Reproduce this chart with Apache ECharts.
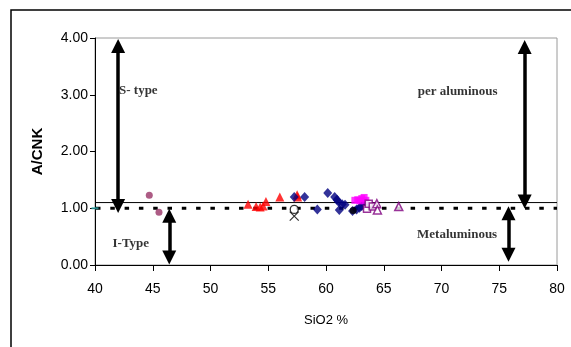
<!DOCTYPE html>
<html>
<head>
<meta charset="utf-8">
<script src="https://cdn.jsdelivr.net/npm/echarts@6/dist/echarts.min.js"></script>
<style>
  html, body { margin: 0; padding: 0; background: #fff; }
  #chart { width: 571px; height: 347px; }
</style>
</head>
<body>
<div id="chart"></div>
<script>
// Axis ticks
const xTicks = [40, 45, 50, 55, 60, 65, 70, 75, 80];
const yTicks = [0, 1, 2, 3, 4];

// Sample groups: [SiO2 %, A/CNK]
const plumCircles = [[44.7, 1.23], [45.54, 0.93]];
const redTriangles = [[53.25, 1.07], [53.95, 1.03], [54.3, 1.02], [54.55, 1.04], [54.8, 1.12], [56.0, 1.2], [57.5, 1.24], [57.55, 1.2]];
const navyDiamonds = [[57.25, 1.2], [58.15, 1.2], [59.25, 0.98], [60.15, 1.27], [60.75, 1.2], [60.95, 1.15], [61.1, 1.11], [61.15, 0.97], [61.4, 1.07], [61.65, 1.06], [62.3, 0.95], [62.65, 0.98], [62.9, 1.01], [63.1, 1.04], [63.3, 1.08]];
const magentaSquares = [[62.5, 1.14], [62.75, 1.15], [62.95, 1.13], [63.1, 1.17], [63.3, 1.19], [63.45, 1.14]];
const purpleOpenSquares = [[63.55, 0.99], [63.7, 1.08], [64.05, 1.03]];
const purpleOpenTriangles = [[64.4, 1.08], [64.45, 0.97], [66.3, 1.03]];
const blackOpenCircles = [[57.25, 0.98]];
const blackCrosses = [[57.25, 0.86]];
const blackDots = [[62.35, 0.96]];
const tealDashes = [[40, 1.0]];

// Boundary lines (A/CNK)
const sTypeBoundary = 1.1;
const aluminaBoundary = 1.0;

// Double-headed arrows: x position and the two ends (A/CNK)
const arrowX = [42, 77.2, 46.43, 75.8];
const arrowFrom = [3.86, 3.84, 0.87, 0.91];
const arrowTo = [1.04, 1.12, 0.13, 0.18];

// Field notes
const noteText = ['S- type', 'per aluminous', 'I-Type', 'Metaluminous'];
const noteX = [43.75, 71.4, 43.1, 71.35];
const noteY = [3.08, 3.05, 0.37, 0.53];

const chart = echarts.init(document.getElementById('chart'), null, { renderer: 'canvas' });

const axisFont = { fontFamily: 'Liberation Sans, Arial, sans-serif', fontSize: 14, color: '#000' };

function scatter(data, symbol, size, style, z) {
  return {
    type: 'scatter', data: data, symbol: symbol, symbolSize: size,
    itemStyle: style, z: z || 3, silent: true, animation: false
  };
}

const arrowLines = arrowX.map((x, i) => [
  { coord: [x, arrowFrom[i]] },
  { coord: [x, arrowTo[i]] }
]);

const option = {
  animation: false,
  backgroundColor: '#fff',
  grid: {
    left: 95, right: 14, top: 38, bottom: 82,
    show: true, borderColor: '#9a9a9a', borderWidth: 1, backgroundColor: 'transparent'
  },
  xAxis: {
    type: 'value', min: xTicks[0], max: xTicks[xTicks.length - 1], interval: 5,
    name: 'SiO2 %', nameLocation: 'middle', nameGap: 49,
    nameTextStyle: { fontFamily: 'Liberation Sans, Arial, sans-serif', fontSize: 13, color: '#000' },
    axisLine: { lineStyle: { color: '#000', width: 1 } },
    axisTick: { show: true, length: 6, lineStyle: { color: '#000' } },
    axisLabel: Object.assign({ margin: 17 }, axisFont),
    splitLine: { show: false }
  },
  yAxis: {
    type: 'value', min: yTicks[0], max: yTicks[yTicks.length - 1], interval: 1,
    name: 'A/CNK', nameLocation: 'middle', nameGap: 50, nameRotate: 90,
    nameTextStyle: { fontFamily: 'Liberation Sans, Arial, sans-serif', fontSize: 15, fontWeight: 'bold', color: '#000' },
    axisLine: { show: true, lineStyle: { color: '#000', width: 1 } },
    axisTick: { show: true, length: 5, lineStyle: { color: '#000' } },
    axisLabel: Object.assign({ margin: 7, formatter: v => v.toFixed(2) }, axisFont),
    splitLine: { show: false }
  },
  graphic: [{
    type: 'rect', silent: true,
    shape: { x: 11, y: 10, width: 700, height: 500 },
    style: { fill: 'none', stroke: '#000', lineWidth: 1.5 }
  }],
  series: [
    // boundary lines
    {
      type: 'line', data: [[xTicks[0], sTypeBoundary], [xTicks[xTicks.length - 1], sTypeBoundary]],
      symbol: 'none', silent: true, z: 2,
      lineStyle: { color: '#000', width: 1 }
    },
    {
      type: 'line', data: [[xTicks[0], aluminaBoundary], [xTicks[xTicks.length - 1], aluminaBoundary]],
      symbol: 'none', silent: true, z: 2,
      lineStyle: { color: '#000', width: 3.2, type: [4.5, 9.8], dashOffset: -1, cap: 'butt' }
    },
    scatter(tealDashes, 'rect', [7, 2], { color: '#2aa8a8' }, 4),
    scatter(plumCircles, 'circle', 7, { color: '#993366' }),
    scatter(redTriangles, 'triangle', [9, 9], { color: '#ff0000' }),
    scatter(navyDiamonds, 'diamond', [9, 10], { color: '#000080' }),
    scatter(magentaSquares, 'rect', 7, { color: '#ff00ff' }),
    scatter(purpleOpenSquares, 'rect', 7, { color: '#fff', borderColor: '#800080', borderWidth: 1.5 }),
    scatter(purpleOpenTriangles, 'triangle', [8, 8], { color: '#fff', borderColor: '#800080', borderWidth: 1.5 }),
    scatter(blackOpenCircles, 'circle', 8, { color: '#fff', borderColor: '#000', borderWidth: 1.3 }),
    scatter(blackCrosses, 'path://M0,0L10,10M10,0L0,10', 9, { color: 'none', borderColor: '#000', borderWidth: 1.2 }),
    scatter(blackDots, 'circle', 7, { color: '#000' }),
    // arrows
    {
      type: 'line', data: [], silent: true, z: 5,
      markLine: {
        silent: true, animation: false,
        symbol: ['triangle', 'triangle'],
        symbolSize: 14,
        label: { show: false },
        itemStyle: { color: '#000' },
        lineStyle: { color: '#000', width: 3.5, type: 'solid' },
        emphasis: { disabled: true },
        data: arrowLines
      }
    },
    // field notes
    {
      type: 'scatter', silent: true, z: 6,
      data: noteX.map((x, i) => ({ value: [x, noteY[i]], name: noteText[i] })),
      symbolSize: 0,
      label: {
        show: true, position: 'inside', formatter: p => p.name,
        fontFamily: 'Liberation Serif, Times New Roman, serif', fontWeight: 'bold',
        fontSize: 13, color: '#000'
      }
    }
  ]
};

chart.setOption(option);
</script>
</body>
</html>
